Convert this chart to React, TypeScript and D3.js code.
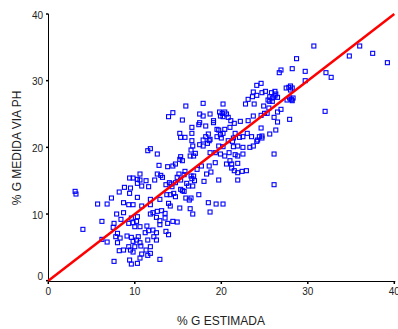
import * as d3 from 'd3'

// % G estimada (x) vs % G medida via PH (y)
const pontos: [number, number][] = [
  // lower left cloud
  [3.1, 13.4], [3.2, 13.0], [7.3, 12.4], [5.7, 11.5], [6.8, 11.5], [8.7, 11.7], [9.4, 13.1], [10.3, 12.5], [9.3, 11.4], [9.8, 11.4],
  [10.8, 11.2], [11.8, 12.2], [11.8, 11.4], [12.9, 12.2], [13.7, 12.9], [13.9, 11.6], [7.9, 10.0], [8.4, 9.2], [8.7, 10.2], [6.2, 8.9],
  [4.0, 7.7], [7.6, 8.6], [7.5, 8.0], [9.3, 8.6], [9.8, 8.7], [10.2, 8.9], [10.0, 8.1], [10.6, 8.1], [11.4, 8.2], [11.8, 10.0],
  [12.1, 10.2], [12.6, 10.4], [12.5, 9.5], [12.9, 9.0], [13.5, 9.4], [13.8, 8.6], [12.9, 8.4], [11.2, 7.2], [11.6, 7.5], [12.1, 7.6],
  [12.5, 7.2], [13.6, 7.4], [9.6, 9.4], [10.3, 9.6], [6.2, 6.2], [6.8, 5.8], [8.0, 7.1], [8.3, 6.4], [8.0, 5.7], [9.1, 6.7],
  [9.6, 6.5], [10.4, 6.6], [9.8, 5.9], [10.2, 6.1], [10.6, 5.7], [11.5, 6.1], [12.5, 6.1], [10.0, 5.1], [10.7, 5.2], [9.3, 5.1],
  [8.7, 4.6], [8.2, 4.5], [9.5, 4.6], [9.8, 4.3], [10.8, 4.0], [11.3, 4.6], [11.8, 4.1], [11.5, 3.8], [10.6, 3.4], [12.9, 3.2],
  [7.6, 2.9], [9.4, 3.1], [9.6, 2.5], [10.3, 2.6], [7.8, 6.6], [11.8, 5.1], [12.2, 6.6], [13.9, 6.9], [14.1, 11.2], [13.1, 10.5],
  [13.5, 10.1], [8.2, 13.3], [9.5, 13.9],
  // middle, below the line
  [15.1, 16.0], [14.9, 15.5], [15.8, 16.4], [15.7, 15.9], [16.5, 15.7], [16.8, 15.7], [16.6, 15.3], [16.9, 15.0], [15.3, 15.1], [14.7, 14.7],
  [14.2, 14.5], [14.3, 14.1], [15.5, 13.5], [15.7, 13.4], [15.3, 13.7], [14.5, 13.1], [14.7, 12.6], [14.1, 12.9], [16.0, 14.6], [16.2, 14.2],
  [16.7, 14.2], [15.9, 12.4], [16.3, 12.1], [16.5, 12.4], [17.4, 12.9], [18.0, 14.9], [18.3, 16.0], [18.8, 16.3], [19.7, 15.1], [18.5, 11.7],
  [19.4, 11.5], [20.2, 11.5], [18.7, 10.3], [15.2, 10.9], [16.4, 10.8], [16.7, 10.0], [14.4, 8.9], [14.9, 8.8], [21.9, 16.2], [21.5, 16.5],
  [22.4, 16.4], [22.9, 16.5], [21.9, 15.1], [26.1, 14.4],
  // left, above the line
  [13.9, 24.6], [11.5, 19.5], [11.8, 19.8], [12.6, 19.0], [12.8, 17.3], [13.8, 17.1], [10.6, 16.0], [9.4, 15.4], [9.8, 15.4], [10.3, 15.2],
  [10.6, 15.1], [11.3, 15.0], [12.3, 15.1], [12.6, 16.0], [13.0, 15.8], [13.2, 15.5], [10.3, 14.6], [10.8, 14.2], [11.6, 14.1], [8.8, 14.0],
  [13.6, 14.4], [14.0, 14.7],
  // middle band
  [16.6, 21.0], [16.7, 20.2], [17.5, 20.4], [17.9, 20.2], [18.4, 20.6], [18.6, 21.0], [19.7, 20.2], [20.2, 20.1], [20.8, 21.0], [21.3, 20.9],
  [21.4, 20.1], [21.9, 20.2], [22.5, 20.0], [23.3, 20.0], [24.1, 20.9], [23.7, 20.2], [16.5, 19.6], [17.0, 19.1], [16.8, 18.7], [16.4, 18.7],
  [15.3, 18.6], [15.2, 18.2], [15.5, 18.0], [14.7, 17.5], [14.4, 17.2], [18.7, 19.2], [19.3, 19.2], [19.9, 19.0], [20.4, 18.7], [20.9, 19.2],
  [21.6, 18.9], [21.9, 18.7], [22.5, 19.0], [21.0, 18.0], [21.2, 17.5], [20.6, 17.5], [21.9, 17.6], [21.2, 16.9], [19.3, 17.7], [18.6, 17.2],
  [17.7, 17.2], [17.2, 16.7],
  [23.1, 27.2], [23.6, 27.6], [24.1, 27.8], [22.8, 26.5], [23.8, 26.5], [20.2, 26.5], [17.9, 26.6], [15.9, 26.2], [14.4, 25.2], [15.5, 24.1],
  [17.5, 25.0], [17.9, 24.7], [18.7, 25.0], [19.1, 24.0], [19.8, 25.3], [20.1, 25.1], [20.4, 25.3], [19.9, 24.7], [20.2, 24.6], [20.6, 25.0],
  [20.8, 24.5], [21.1, 24.0], [21.5, 23.6], [22.2, 23.9], [23.1, 24.0], [16.6, 23.0], [17.5, 23.7], [17.4, 23.4], [19.1, 23.7], [16.6, 22.1],
  [15.2, 22.1], [15.8, 21.5], [15.3, 21.5], [18.5, 22.0], [18.7, 21.2], [17.9, 21.1], [19.7, 22.6], [19.9, 21.9], [20.2, 22.1], [19.5, 21.6],
  [20.0, 21.4], [21.0, 23.0], [21.6, 22.1], [21.4, 21.4], [22.1, 21.5], [22.5, 21.6], [23.5, 21.6], [24.2, 21.1], [23.0, 22.1], [23.7, 28.3],
  [24.1, 29.3], [23.7, 24.7], [18.2, 23.2], [18.2, 21.6], [19.5, 22.7], [20.4, 22.7], [24.4, 21.6],
  // upper right
  [30.7, 35.2], [36.0, 35.2], [37.5, 34.1], [39.2, 32.7], [34.8, 33.7], [28.7, 33.3], [28.2, 31.8], [26.9, 31.6], [26.7, 31.2], [29.7, 31.4],
  [32.1, 31.2], [32.7, 30.5], [29.7, 30.0], [24.6, 29.6], [28.0, 29.2], [27.8, 29.0], [27.5, 28.9], [28.2, 28.9], [28.0, 28.6], [25.1, 28.4],
  [24.7, 28.2], [25.8, 28.2], [26.2, 28.4], [26.3, 28.0], [26.5, 27.5], [25.6, 27.6], [25.9, 27.4], [25.4, 27.1], [25.9, 26.9], [25.6, 26.9],
  [26.2, 27.7], [27.6, 27.1], [27.9, 27.4], [28.2, 27.0], [28.3, 27.4], [28.1, 27.2], [24.9, 26.2], [25.5, 25.9], [26.9, 25.7], [26.5, 25.3],
  [25.0, 25.1], [25.3, 25.1], [24.6, 24.8], [26.1, 24.5], [32.0, 25.4], [27.9, 24.2], [26.5, 23.8], [24.6, 22.9], [26.3, 22.6], [25.6, 22.0],
  [24.7, 21.7], [24.7, 21.4], [26.1, 19.0],
]

const ticks = [0, 10, 20, 30, 40]
const identityLine = [0, 40]

const xTitle = '% G ESTIMADA'
const yTitle = '% G MEDIDA VIA PH'
const font = '"Liberation Sans", Arial, sans-serif'

export default function App() {
  const width = 398
  const height = 329

  const x = d3.scaleLinear().domain([0, 40]).range([48.3, 394.3])
  const y = d3.scaleLinear().domain([0, 40]).range([280.7, 14])

  const line = d3
    .line<number>()
    .x(d => x(d))
    .y(d => y(d))

  const axisX = 48.5
  const axisY = 281.5

  return (
    <svg
      width={width}
      height={height}
      viewBox={`0 0 ${width} ${height}`}
      style={{ position: 'absolute', left: 0, top: 0, background: 'white' }}
    >
      {/* points */}
      <g>
        {pontos.map(([gx, gy], i) => (
          <rect
            key={i}
            x={x(gx) - 2}
            y={y(gy) - 2}
            width={4}
            height={4}
            fill="none"
            stroke="#0000ff"
            strokeWidth={1.1}
          />
        ))}
      </g>

      {/* axes */}
      <line x1={axisX} x2={axisX} y1={y(40)} y2={axisY} stroke="#000" strokeWidth={1} />
      <line x1={axisX} x2={x(40) + 1} y1={axisY} y2={axisY} stroke="#000" strokeWidth={1} />

      {ticks.map(t => (
        <g key={'x' + t}>
          <line x1={x(t)} x2={x(t)} y1={axisY} y2={axisY + 2.5} stroke="#000" strokeWidth={1.5} />
          <text
            x={x(t)}
            y={295.3}
            textAnchor="middle"
            fontSize={10}
            fontFamily={font}
            fill="#222"
          >
            {t}
          </text>
        </g>
      ))}

      {ticks.map(t => (
        <g key={'y' + t}>
          <line x1={axisX - 2.5} x2={axisX} y1={y(t)} y2={y(t)} stroke="#000" strokeWidth={1.5} />
          <text
            x={43}
            y={t === 0 ? y(t) - 0.5 : y(t) + 4.5}
            textAnchor="end"
            fontSize={10}
            fontFamily={font}
            fill="#222"
          >
            {t}
          </text>
        </g>
      ))}

      {/* identity line */}
      <path d={line(identityLine) ?? ''} stroke="#ff0000" strokeWidth={2.5} fill="none" />

      <text
        x={221}
        y={325}
        textAnchor="middle"
        fontSize={12}
        fontFamily={font}
        fill="#222"
      >
        {xTitle}
      </text>
      <text
        transform={`translate(21, 148) rotate(-90)`}
        textAnchor="middle"
        fontSize={12}
        fontFamily={font}
        fill="#222"
      >
        {yTitle}
      </text>
    </svg>
  )
}
